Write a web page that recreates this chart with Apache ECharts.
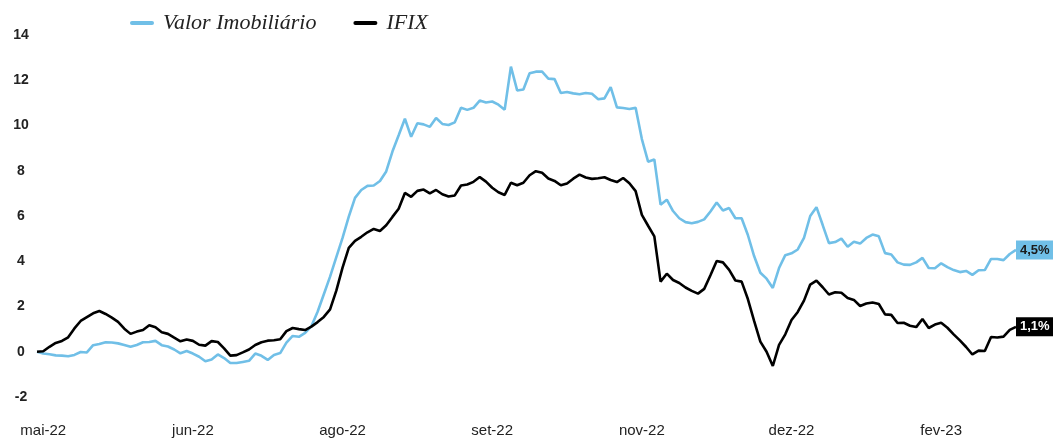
<!DOCTYPE html>
<html>
<head>
<meta charset="utf-8">
<script src="https://cdn.jsdelivr.net/npm/echarts@6/dist/echarts.min.js"></script>
<style>
  html, body { margin: 0; padding: 0; background: #fff; }
  #chart { width: 1053px; height: 438px; }
</style>
</head>
<body>
<div id="chart"></div>
<script>
// rótulos do eixo x e posições (índice do ponto)
const monthLabels = ['mai-22', 'jun-22', 'ago-22', 'set-22', 'nov-22', 'dez-22', 'fev-23']
const monthIndex = [1, 25, 49, 73, 97, 121, 145]

// variação acumulada (%)
const valorImobiliario = [
  0, -0.08, -0.11, -0.16, -0.17, -0.20, -0.14, -0.01, -0.03, 0.29,
  0.34, 0.42, 0.41, 0.37, 0.30, 0.22, 0.30, 0.42, 0.43, 0.48,
  0.29, 0.23, 0.10, -0.07, 0.03, -0.08, -0.22, -0.42, -0.34, -0.12,
  -0.28, -0.50, -0.50, -0.45, -0.40, -0.08, -0.18, -0.36, -0.14, -0.06,
  0.40, 0.70, 0.66, 0.83, 1.13, 1.77, 2.54, 3.32, 4.18, 5.03,
  5.97, 6.80, 7.15, 7.33, 7.35, 7.55, 7.97, 8.85, 9.57, 10.30,
  9.50, 10.10, 10.05, 9.94, 10.33, 10.07, 10.02, 10.14, 10.78, 10.69,
  10.78, 11.10, 11.02, 11.06, 10.92, 10.70, 12.60, 11.55, 11.59, 12.31,
  12.38, 12.38, 12.07, 12.05, 11.44, 11.48, 11.42, 11.38, 11.44, 11.40,
  11.16, 11.20, 11.70, 10.80, 10.77, 10.73, 10.78, 9.40, 8.40, 8.50,
  6.50, 6.72, 6.22, 5.90, 5.73, 5.68, 5.74, 5.85, 6.20, 6.60,
  6.24, 6.35, 5.90, 5.90, 5.16, 4.23, 3.49, 3.23, 2.82, 3.70,
  4.27, 4.35, 4.52, 5.03, 6.00, 6.39, 5.60, 4.80, 4.85, 5.00,
  4.64, 4.86, 4.78, 5.03, 5.18, 5.10, 4.36, 4.30, 3.95, 3.85,
  3.84, 3.95, 4.15, 3.70, 3.69, 3.91, 3.74, 3.61, 3.52, 3.57,
  3.40, 3.60, 3.61, 4.10, 4.10, 4.05, 4.32, 4.50
]
const ifix = [
  0, 0.02, 0.22, 0.39, 0.48, 0.64, 1.03, 1.36, 1.53, 1.70,
  1.80, 1.67, 1.51, 1.32, 1.02, 0.79, 0.89, 0.96, 1.17, 1.08,
  0.86, 0.79, 0.62, 0.46, 0.54, 0.48, 0.31, 0.27, 0.47, 0.43,
  0.15, -0.17, -0.15, -0.03, 0.10, 0.30, 0.42, 0.49, 0.51, 0.55,
  0.91, 1.05, 1.00, 0.96, 1.11, 1.31, 1.54, 1.87, 2.70, 3.72,
  4.59, 4.90, 5.08, 5.28, 5.43, 5.34, 5.59, 5.96, 6.32, 7.02,
  6.85, 7.11, 7.17, 7.00, 7.15, 6.96, 6.86, 6.91, 7.35, 7.39,
  7.51, 7.72, 7.52, 7.25, 7.05, 6.93, 7.47, 7.36, 7.47, 7.80,
  7.98, 7.91, 7.66, 7.55, 7.36, 7.44, 7.65, 7.83, 7.70, 7.64,
  7.67, 7.71, 7.59, 7.50, 7.68, 7.45, 7.10, 6.05, 5.57, 5.10,
  3.10, 3.45, 3.17, 3.04, 2.84, 2.69, 2.57, 2.78, 3.38, 4.01,
  3.95, 3.62, 3.15, 3.10, 2.33, 1.36, 0.45, 0.00, -0.63, 0.30,
  0.77, 1.40, 1.76, 2.26, 2.97, 3.14, 2.85, 2.53, 2.63, 2.61,
  2.38, 2.29, 2.02, 2.13, 2.18, 2.11, 1.65, 1.63, 1.27, 1.28,
  1.15, 1.09, 1.45, 1.05, 1.20, 1.28, 1.06, 0.77, 0.50, 0.21,
  -0.12, 0.05, 0.03, 0.65, 0.63, 0.67, 0.97, 1.10
]

const categories = valorImobiliario.map((v, i) => String(i))
const blue = '#70BFE7'
const pctLabel = p => p.value.toFixed(1).replace('.', ',') + '%'
const pill = 'path://M2,0 L22,0 A2,2 0 0 1 22,4 L2,4 A2,2 0 0 1 2,0 Z'

const chart = echarts.init(document.getElementById('chart'))
chart.setOption({
  animation: false,
  grid: { left: 37, right: 37, top: 35, bottom: 40 },
  legend: {
    left: 125,
    top: 7,
    itemWidth: 24,
    itemHeight: 5,
    itemGap: 37,
    textStyle: {
      fontFamily: 'Liberation Serif',
      fontStyle: 'italic',
      fontSize: 22,
      color: '#222',
      padding: [0, 0, 0, 4]
    },
    data: [
      { name: 'Valor Imobiliário', icon: pill },
      { name: 'IFIX', icon: pill }
    ]
  },
  xAxis: {
    type: 'category',
    boundaryGap: false,
    data: categories,
    axisLine: { show: false },
    axisTick: { show: false },
    splitLine: { show: false },
    axisLabel: {
      interval: (index) => monthIndex.indexOf(index) >= 0,
      formatter: (value, index) => {
        const k = monthIndex.indexOf(index)
        return k >= 0 ? monthLabels[k] : ''
      },
      margin: 26,
      fontFamily: 'Liberation Sans',
      fontSize: 15,
      color: '#222'
    }
  },
  yAxis: {
    type: 'value',
    min: -2,
    max: 14,
    interval: 2,
    axisLine: { show: false },
    axisTick: { show: false },
    splitLine: { show: false },
    axisLabel: {
      align: 'center',
      margin: 16,
      fontFamily: 'Liberation Sans',
      fontWeight: 'bold',
      fontSize: 14,
      color: '#222'
    }
  },
  series: [
    {
      name: 'Valor Imobiliário',
      type: 'line',
      data: valorImobiliario,
      symbol: 'none',
      color: blue,
      lineStyle: { color: blue, width: 2.6 },
      endLabel: {
        show: true,
        formatter: pctLabel,
        distance: 0,
        backgroundColor: blue,
        color: '#1a1a1a',
        fontFamily: 'Liberation Sans',
        fontWeight: 'bold',
        fontSize: 13,
        padding: [3, 4, 3, 4]
      }
    },
    {
      name: 'IFIX',
      type: 'line',
      data: ifix,
      symbol: 'none',
      color: '#000',
      lineStyle: { color: '#000', width: 2.6 },
      endLabel: {
        show: true,
        formatter: pctLabel,
        distance: 0,
        backgroundColor: '#000',
        color: '#fff',
        fontFamily: 'Liberation Sans',
        fontWeight: 'bold',
        fontSize: 13,
        padding: [3, 4, 3, 4]
      }
    }
  ]
})
</script>
</body>
</html>
